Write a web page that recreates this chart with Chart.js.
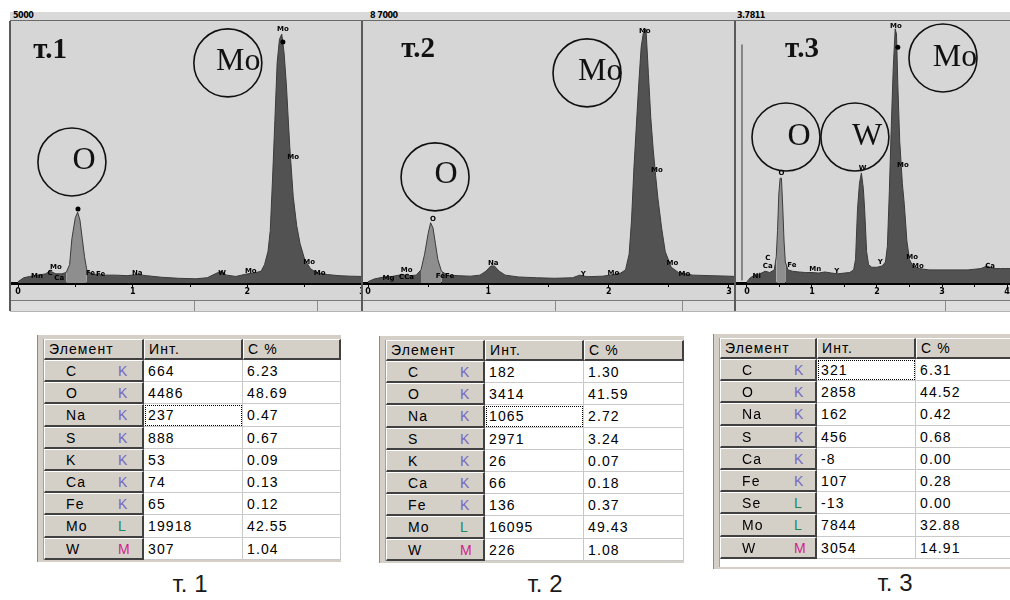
<!DOCTYPE html>
<html>
<head>
<meta charset="utf-8">
<title>EDS spectra</title>
<script src="https://cdn.jsdelivr.net/npm/chart.js@4.4.1/dist/chart.umd.min.js"></script>
<style>
  html, body { margin: 0; padding: 0; background: #fff; }
  body { width: 1010px; height: 600px; position: relative; overflow: hidden; font-family: "Liberation Sans", Arial, sans-serif; }
  .abs { position: absolute; }
  #band { left: 10px; top: 12px; width: 1000px; height: 8px; background: #d9d9d9; border-bottom: 1px solid #6a6a6a; }
  .fs { position: absolute; top: 11px; font: bold 8px "DejaVu Sans"; color: #000; letter-spacing: -0.5px; }
  #plots { left: 10px; top: 21px; width: 1000px; height: 279px; background: #d6d6d6; }
  #status { left: 10px; top: 300px; width: 1000px; height: 10px; background: #dedede; border-top: 1px solid #7a7a7a; border-bottom: 1px solid #b4b4b4; }
  .vl { position: absolute; top: 21px; height: 290px; width: 2px; background: #5a5a5a; }
  .sep { position: absolute; top: 301px; height: 10px; width: 1px; background: #8a8a8a; }
  canvas { position: absolute; top: 21px; }
  .tbl { position: absolute; background: #d4d0c8; border-left: 1px solid #8a8a8a; padding: 4px 0 2px 5px; }
  .inner { border-left: 1px solid #a0a0a0; background: #fff; }
  .row { display: flex; height: 22.2px; }
  .row.head { height: 21px; }
  .cell { box-sizing: border-box; height: 100%; font-size: 14px; letter-spacing: 1.1px; line-height: 23px; padding-left: 4px; white-space: nowrap; overflow: hidden; color: #000; position: relative; }
  .hd, .el { background: #d4d0c8; border-top: 1px solid #fff; border-left: 1px solid #fff; border-right: 2px solid #404040; border-bottom: 2px solid #404040; line-height: 19px; }
  .el { line-height: 21px; }
  .el .sym { position: absolute; left: 21px; }
  .el .ln { position: absolute; left: 73px; }
  .dc { background: #fff; border-right: 1px solid #c9c9c9; border-bottom: 1px solid #c9c9c9; }
  .focus { outline: 1px dotted #000; outline-offset: -2px; }
  .cap { position: absolute; font-size: 24px; color: #1a1a1a; transform: translateX(-50%); white-space: nowrap; }
</style>
</head>
<body>
<div id="band" class="abs"></div>
<div class="fs" style="left:13px">5000</div>
<div class="fs" style="left:370px">8 7000</div>
<div class="fs" style="left:737px">3.7811</div>
<div id="plots" class="abs"></div>
<div id="status" class="abs"></div>
<div class="sep" style="left:194px"></div>
<div class="sep" style="left:317px"></div>
<div class="sep" style="left:555px"></div>
<div class="sep" style="left:682px"></div>
<div class="sep" style="left:945px"></div>
<canvas id="spec1" width="352" height="276" style="left:10px"></canvas>
<canvas id="spec2" width="372" height="276" style="left:363px"></canvas>
<canvas id="spec3" width="274" height="276" style="left:736px"></canvas>
<div class="vl" style="left:9px"></div>
<div class="vl" style="left:361px"></div>
<div class="vl" style="left:734px"></div>

<script>
// spectrum т.1 : energy, keV / counts (relative to full scale = 100)
var energy1 = [0, 0.05, 0.10, 0.18, 0.24, 0.28, 0.33, 0.38, 0.42, 0.45, 0.47, 0.50, 0.52, 0.54, 0.56, 0.58, 0.60, 0.64,
  0.75, 0.85, 0.95, 1.04, 1.12, 1.25, 1.40, 1.55, 1.65, 1.72, 1.77, 1.82, 1.90, 2.00, 2.06, 2.12, 2.15, 2.18, 2.20,
  2.22, 2.24, 2.26, 2.28, 2.30, 2.32, 2.34, 2.37, 2.40, 2.43, 2.46, 2.50, 2.55, 2.60, 2.70, 2.80, 2.90, 3.00];
var counts1 = [0.5, 2, 2.5, 3, 3.5, 4.5, 3.5, 3.5, 4, 7, 17, 25, 27, 24, 17, 10, 5, 3.5,
  3, 3, 2.8, 3.2, 2.8, 2.2, 1.8, 1.6, 2, 3.5, 4.5, 3, 2.5, 3.5, 3.8, 4.5, 7, 12, 20,
  40, 62, 84, 93, 95, 88, 76, 52, 33, 22, 15, 9, 5.5, 4, 3.2, 2.8, 2.6, 2.5];

// spectrum т.2
var energy2 = [0, 0.05, 0.12, 0.20, 0.28, 0.34, 0.40, 0.44, 0.47, 0.50, 0.52, 0.54, 0.56, 0.58, 0.61, 0.66,
  0.75, 0.85, 0.93, 0.98, 1.02, 1.05, 1.09, 1.14, 1.25, 1.40, 1.55, 1.70, 1.76, 1.82, 1.95, 2.04, 2.10, 2.14,
  2.17, 2.19, 2.21, 2.23, 2.25, 2.27, 2.29, 2.31, 2.33, 2.35, 2.37, 2.39, 2.41, 2.44, 2.47, 2.52, 2.58, 2.70,
  2.85, 3.00, 3.05];
var counts2 = [0.5, 1.5, 2.2, 2.5, 3.2, 2.8, 3, 5, 11, 19, 23, 21, 15, 9, 4.5, 3,
  2.8, 2.6, 3, 4.5, 6.5, 6.5, 4.5, 3, 2.3, 2, 1.8, 2, 3, 2.4, 2.6, 3.2, 3.8, 5,
  11, 24, 44, 60, 76, 90, 96, 97, 80, 63, 51, 41, 32, 21, 12, 6, 4, 3,
  2.8, 2.6, 2.5];

// spectrum т.3
var energy3 = [0, 0.05, 0.12, 0.20, 0.28, 0.35, 0.42, 0.45, 0.47, 0.49, 0.51, 0.53, 0.55, 0.57, 0.59, 0.63,
  0.70, 0.80, 0.90, 1.00, 1.10, 1.20, 1.30, 1.40, 1.50, 1.58, 1.64, 1.67, 1.70, 1.73, 1.76, 1.79, 1.81, 1.84,
  1.87, 1.92, 2.00, 2.08, 2.13, 2.16, 2.19, 2.22, 2.25, 2.28, 2.30, 2.32, 2.35, 2.39, 2.42, 2.46, 2.50, 2.55,
  2.65, 2.80, 3.00, 3.20, 3.40, 3.60, 3.69, 3.78, 3.90, 4.05];
var counts3 = [0.5, 2, 3, 3.5, 4.5, 4, 5, 10, 20, 34, 40, 40, 29, 16, 8, 5,
  4.5, 4.2, 4, 4, 3.8, 4.2, 3.8, 3.5, 3.8, 4, 5, 9, 28, 38, 42, 36, 28, 12,
  7, 6, 6, 6.5, 8, 14, 35, 60, 82, 97, 95, 76, 54, 38, 30, 16, 9, 6.5,
  5.5, 5, 5, 5, 5, 5.5, 6.5, 5.5, 5.5, 5.5];

var xTicks1 = [0, 0.5, 1, 1.5, 2, 2.5, 3];
var xTicks2 = [0, 0.5, 1, 1.5, 2, 2.5, 3];
var xTicks3 = [0, 0.5, 1, 1.5, 2, 2.5, 3, 3.5, 4];

// quantification tables
var headers = ['Элемент', 'Инт.', 'C %'];
var elements1 = ['C', 'O', 'Na', 'S', 'K', 'Ca', 'Fe', 'Mo', 'W'];
var lines1 = ['K', 'K', 'K', 'K', 'K', 'K', 'K', 'L', 'M'];
var intensity1 = [664, 4486, 237, 888, 53, 74, 65, 19918, 307];
var percent1 = [6.23, 48.69, 0.47, 0.67, 0.09, 0.13, 0.12, 42.55, 1.04];

var elements2 = ['C', 'O', 'Na', 'S', 'K', 'Ca', 'Fe', 'Mo', 'W'];
var lines2 = ['K', 'K', 'K', 'K', 'K', 'K', 'K', 'L', 'M'];
var intensity2 = [182, 3414, 1065, 2971, 26, 66, 136, 16095, 226];
var percent2 = [1.30, 41.59, 2.72, 3.24, 0.07, 0.18, 0.37, 49.43, 1.08];

var elements3 = ['C', 'O', 'Na', 'S', 'Ca', 'Fe', 'Se', 'Mo', 'W'];
var lines3 = ['K', 'K', 'K', 'K', 'K', 'K', 'L', 'L', 'M'];
var intensity3 = [321, 2858, 162, 456, -8, 107, -13, 7844, 3054];
var percent3 = [6.31, 44.52, 0.42, 0.68, 0.00, 0.28, 0.00, 32.88, 14.91];

var captions = ['т. 1', 'т. 2', 'т. 3'];

var lineColors = { K: '#7468c4', L: '#1f8a5c', M: '#d01e8c' };

// circles, labels etc. placed in data units (keV, counts)
var marksPlugin = {
  id: 'marks',
  afterDatasetsDraw: function (chart, args, o) {
    var ctx = chart.ctx, xs = chart.scales.x, ys = chart.scales.y;
    function px(v) { return xs.getPixelForValue(v); }
    function py(v) { return ys.getPixelForValue(v); }
    ctx.save();
    if (o.cursor != null) {
      ctx.strokeStyle = '#6a6a6a';
      ctx.lineWidth = 1.5;
      ctx.beginPath();
      ctx.moveTo(px(o.cursor), py(1));
      ctx.lineTo(px(o.cursor), py(91));
      ctx.stroke();
    }
    ctx.fillStyle = '#000';
    ctx.textAlign = 'center';
    ctx.textBaseline = 'middle';
    ctx.font = 'bold 7px "DejaVu Sans"';
    o.tiny.forEach(function (t) { ctx.fillText(t[2], px(t[0]), py(t[1])); });
    o.dots.forEach(function (d) {
      ctx.beginPath();
      ctx.arc(px(d[0]), py(d[1]), 2.5, 0, Math.PI * 2);
      ctx.fill();
    });
    ctx.strokeStyle = '#111';
    ctx.lineWidth = 1.6;
    o.circles.forEach(function (c) {
      ctx.beginPath();
      ctx.arc(px(c[0]), py(c[1]), 34, 0, Math.PI * 2);
      ctx.stroke();
    });
    ctx.fillStyle = '#111';
    ctx.font = '32px "Liberation Serif"';
    o.letters.forEach(function (l) { ctx.fillText(l[2], px(l[0]), py(l[1])); });
    ctx.font = 'bold 29px "Liberation Serif"';
    ctx.fillText(o.title[2], px(o.title[0]), py(o.title[1]));
    ctx.restore();
  }
};

function drawSpectrum(id, energy, counts, xMin, xMax, ticks, roi, marks) {
  var points = energy.map(function (e, i) { return { x: e, y: counts[i] }; });
  return new Chart(document.getElementById(id), {
    type: 'line',
    data: {
      datasets: [{
        data: points,
        fill: 'origin',
        tension: 0,
        pointRadius: 0,
        borderWidth: 1,
        borderColor: '#3a3a3a',
        backgroundColor: '#525252',
        segment: {
          backgroundColor: function (c) {
            return (c.p0.parsed.x >= roi[0] && c.p1.parsed.x <= roi[1]) ? '#8e8e8e' : undefined;
          }
        }
      }]
    },
    options: {
      responsive: false,
      animation: false,
      events: [],
      layout: { padding: 0 },
      plugins: { legend: { display: false }, tooltip: { enabled: false }, marks: marks },
      scales: {
        x: {
          type: 'linear',
          min: xMin,
          max: xMax,
          afterBuildTicks: function (s) { s.ticks = ticks.map(function (v) { return { value: v }; }); },
          afterFit: function (s) { s.height = 14; s.paddingLeft = 0; s.paddingRight = 0; },
          border: { display: true, color: '#000', width: 3 },
          grid: { display: true, drawOnChartArea: false, drawTicks: true, tickLength: 4, color: '#000', lineWidth: 1 },
          ticks: {
            autoSkip: false, maxRotation: 0, padding: 0, color: '#000',
            font: { family: 'DejaVu Sans', size: 8, weight: 'bold' },
            callback: function (v) { return Number.isInteger(v) ? String(v) : ''; }
          }
        },
        y: { display: false, min: 0, max: 100 }
      }
    },
    plugins: [marksPlugin]
  });
}

drawSpectrum('spec1', energy1, counts1, -0.07, 3.0, xTicks1, [0.41, 0.63], {
  title: [0.28, 88.9, 'т.1'],
  circles: [[0.47, 46.2], [1.83, 84.0]],
  letters: [[0.576, 46.9, 'O'], [1.92, 84.4, 'Mo']],
  dots: [[0.523, 28.2], [2.31, 92]],
  tiny: [[0.165, 2.7, 'Mn'], [0.33, 6.1, 'Mo'], [0.28, 3.6, 'C'], [0.36, 2.0, 'Ca'], [0.63, 3.8, 'Fe'], [0.72, 3.2, 'Fe'],
    [1.04, 3.6, 'Na'], [1.78, 3.8, 'W'], [2.03, 4.6, 'Mo'], [2.31, 97, 'Mo'], [2.40, 48, 'Mo'], [2.54, 8, 'Mo'], [2.63, 3.8, 'Mo']],
  cursor: null
});

drawSpectrum('spec2', energy2, counts2, -0.042, 3.05, xTicks2, [0.43, 0.62], {
  title: [0.416, 89.3, 'т.2'],
  circles: [[0.557, 40.5], [1.82, 80.2]],
  letters: [[0.648, 41.2, 'O'], [1.93, 80.5, 'Mo']],
  dots: [],
  tiny: [[0.17, 1.9, 'Mg'], [0.32, 5, 'Mo'], [0.32, 2.4, 'CCa'], [0.54, 24.5, 'O'], [0.64, 2.7, 'FeFe'], [1.04, 7.6, 'Na'],
    [1.79, 3.4, 'Y'], [2.04, 3.8, 'Mo'], [2.30, 96, 'Mo'], [2.40, 43, 'Mo'], [2.53, 7.6, 'Mo'], [2.63, 3.4, 'Mo']],
  cursor: null
});

drawSpectrum('spec3', energy3, counts3, -0.169, 4.046, xTicks3, [0.43, 0.60], {
  title: [0.846, 89.3, 'т.3'],
  circles: [[0.60, 55.7], [1.66, 55.7], [3.015, 85.9]],
  letters: [[0.80, 55.7, 'O'], [1.846, 55.7, 'W'], [3.20, 85.9, 'Mo']],
  dots: [[2.32, 90]],
  tiny: [[0.15, 2.7, 'Ni'], [0.32, 9.5, 'C'], [0.32, 6.5, 'Ca'], [0.53, 42, 'O'], [0.69, 6.9, 'Fe'], [1.05, 5.3, 'Mn'],
    [1.38, 4.6, 'Y'], [1.78, 44, 'W'], [2.05, 8, 'Y'], [2.29, 98, 'Mo'], [2.40, 45, 'Mo'], [2.54, 10, 'Mo'],
    [2.63, 6.5, 'Mo'], [3.74, 6.5, 'Ca']],
  cursor: -0.077
});

function buildTable(left, top, widths, els, lines, ints, pcts, focusRow, tail) {
  var total = widths[0] + widths[1] + widths[2];
  var html = '<div class="inner" style="width:' + total + 'px;padding-bottom:' + tail + 'px">';
  html += '<div class="row head">';
  headers.forEach(function (h, i) {
    html += '<div class="cell hd" style="width:' + widths[i] + 'px">' + h + '</div>';
  });
  html += '</div>';
  els.forEach(function (el, r) {
    html += '<div class="row">';
    html += '<div class="cell el" style="width:' + widths[0] + 'px"><span class="sym">' + el +
      '</span><span class="ln" style="color:' + lineColors[lines[r]] + '">' + lines[r] + '</span></div>';
    html += '<div class="cell dc' + (r === focusRow ? ' focus' : '') + '" style="width:' + widths[1] + 'px">' + ints[r] + '</div>';
    html += '<div class="cell dc" style="width:' + widths[2] + 'px">' + pcts[r].toFixed(2) + '</div>';
    html += '</div>';
  });
  html += '</div>';
  var box = document.createElement('div');
  box.className = 'tbl';
  box.style.left = (left - 6) + 'px';
  box.style.top = (top - 4) + 'px';
  box.innerHTML = html;
  document.body.appendChild(box);
}

buildTable(43, 339, [100, 99, 98], elements1, lines1, intensity1, percent1, 2, 0);
buildTable(385, 340, [99, 99, 100], elements2, lines2, intensity2, percent2, 2, 0);
buildTable(719, 338, [97, 99, 100], elements3, lines3, intensity3, percent3, 0, 8);

[[190, 570], [545, 570], [895, 569]].forEach(function (p, i) {
  var d = document.createElement('div');
  d.className = 'cap';
  d.style.left = p[0] + 'px';
  d.style.top = p[1] + 'px';
  d.textContent = captions[i];
  document.body.appendChild(d);
});
</script>
</body>
</html>
